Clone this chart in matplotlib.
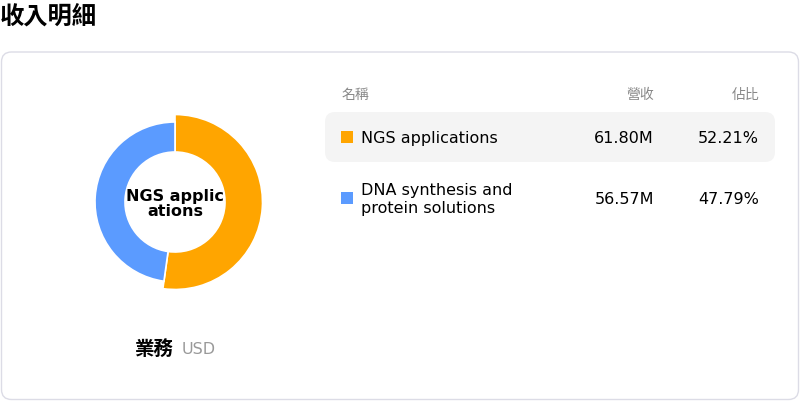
import matplotlib
matplotlib.use('Agg')
import matplotlib.pyplot as plt
from matplotlib.patches import FancyBboxPatch, Rectangle

plt.rcParams['font.family'] = ['DejaVu Sans', 'Noto Sans CJK TC']

# data
segments = ['NGS applications', 'DNA synthesis and\nprotein solutions']
revenue = [61.80, 56.57]  # millions USD
share = [52.21, 47.79]
colors = ['#ffa500', '#5b9bff']
center_label = 'NGS applic\nations'

fig = plt.figure(figsize=(8, 4.02), dpi=100)

# overlay axes in pixel coords (top-left origin)
bg = fig.add_axes([0, 0, 1, 1])
bg.set_xlim(0, 800)
bg.set_ylim(402, 0)
bg.axis('off')

bg.text(0, 17, '收入明細', fontsize=17.5, fontweight='bold', va='center', ha='left',
        family=['Noto Sans CJK TC'])

# card
bg.add_patch(FancyBboxPatch((1.5, 53), 797, 347.5, boxstyle='round,pad=0,rounding_size=10',
                            fc='white', ec='#dcdce6', lw=1))

# table header
hdr_kw = dict(fontsize=10, color='#888888', va='center', family=['Noto Sans CJK TC'])
bg.text(342, 95, '名稱', ha='left', **hdr_kw)
bg.text(654, 95, '營收', ha='right', **hdr_kw)
bg.text(759, 95, '佔比', ha='right', **hdr_kw)

# highlighted row
bg.add_patch(FancyBboxPatch((325, 113), 450, 50, boxstyle='round,pad=0,rounding_size=10',
                            fc='#f4f4f4', ec='none'))

row_y = [139, 200]
for i, name in enumerate(segments):
    y = row_y[i]
    bg.add_patch(Rectangle((341, y - 7), 12, 12, fc=colors[i], ec='none'))
    bg.text(361, y, name, fontsize=11.5, va='center', ha='left', linespacing=1.25)
    bg.text(654, y, f'{revenue[i]:.2f}M', fontsize=11.5, va='center', ha='right')
    bg.text(759, y, f'{share[i]:.2f}%', fontsize=11.5, va='center', ha='right')

# bottom label
bg.text(135, 350, '業務', fontsize=14, fontweight='bold', va='center', ha='left',
        family=['Noto Sans CJK TC'])
bg.text(182, 350, 'USD', fontsize=11.5, color='#999999', va='center', ha='left')

# donut
ax = fig.add_axes([75 / 800, (402 - 303) / 402, 200 / 800, 200 / 402])
wedges, _ = ax.pie(share, colors=colors, startangle=90, counterclock=False, radius=80,
                   wedgeprops=dict(width=30, edgecolor='white', linewidth=1.2), frame=True)
ax.set_xlim(-100, 100)
ax.set_ylim(-100, 100)
ax.axis('off')
wedges[0].set_radius(87.5)
wedges[0].set_width(37.5)
ax.text(0, -1, center_label, ha='center', va='center', fontsize=11.5, fontweight='bold',
        linespacing=1.0)

fig.savefig('out.png', dpi=100)
